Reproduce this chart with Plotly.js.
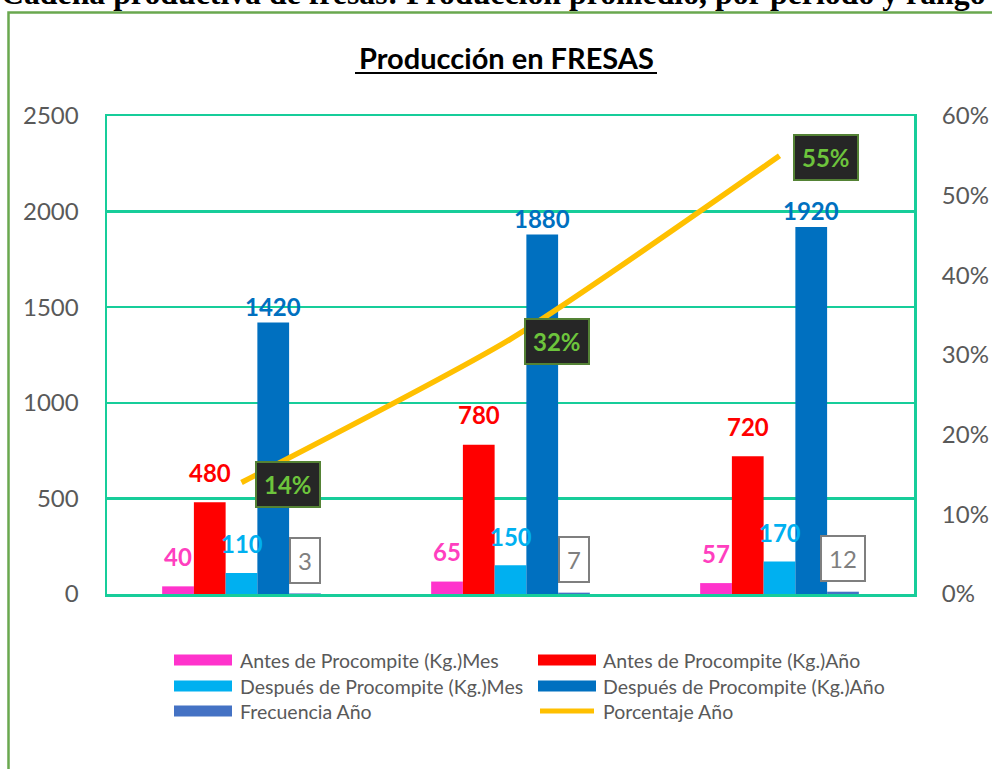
<!DOCTYPE html>
<html>
<head>
<meta charset="utf-8">
<script src="https://cdn.plot.ly/plotly-3.0.1.min.js"></script>
<style>
html,body{margin:0;padding:0;background:#ffffff;}
#chart{width:992px;height:769px;}
</style>
</head>
<body>
<div id="chart"></div>
<script>
// ---- data ----
const categories = ['Periodo 1', 'Periodo 2', 'Periodo 3'];
const antesMes = [40, 65, 57];
const antesAnio = [480, 780, 720];
const despuesMes = [110, 150, 170];
const despuesAnio = [1420, 1880, 1920];
const frecuenciaAnio = [3, 7, 12];
const porcentajeAnio = [0.14, 0.32, 0.55];
const seriesNames = [
  'Antes de Procompite (Kg.)Mes',
  'Antes de Procompite (Kg.)Año',
  'Después de Procompite (Kg.)Mes',
  'Después de Procompite (Kg.)Año',
  'Frecuencia Año',
  'Porcentaje Año'
];
const leftTicks = [0, 500, 1000, 1500, 2000, 2500];
const rightTicks = [0, 0.1, 0.2, 0.3, 0.4, 0.5, 0.6];
const chartTitle = 'Producción en FRESAS';
const pageTitle = 'Cadena productiva de fresas: Producción promedio, por periodo y rango';

// ---- styles ----
const barColors = ['#FF33CC', '#FF0000', '#00B0F0', '#0070C0', '#4472C4'];
const labelColors = ['#FF3FBF', '#FF0000', '#00B0F0', '#0070C0'];
const lineColor = '#FFC000';
const teal = '#17CD9A';
const grey = '#595959';
const FONT = 'Lato, "Open Sans", sans-serif';

const W = 992, H = 769;
const M = {l: 107, r: 78, t: 116, b: 175};
const PW = W - M.l - M.r, PH = H - M.t - M.b;
const px = x => (x - M.l) / PW;
const py = y => (H - M.b - y) / PH;

const barSeries = [antesMes, antesAnio, despuesMes, despuesAnio, frecuenciaAnio];
const bargap = 0.41;
const nb = barSeries.length;
const bw = (1 - bargap) / nb;

const traces = barSeries.map((vals, k) => ({
  type: 'bar',
  name: seriesNames[k],
  x: categories,
  y: vals,
  marker: {color: barColors[k]},
  yaxis: 'y',
  hoverinfo: 'name+y',
  showlegend: false
}));
traces.push({
  type: 'scatter',
  mode: 'lines',
  name: seriesNames[5],
  x: categories,
  y: porcentajeAnio,
  yaxis: 'y2',
  line: {color: lineColor, width: 5.5, shape: 'spline', smoothing: 0.6},
  showlegend: false
});

const annotations = [];
// bar value labels
const labelShift = [30, 30, 29, 16];
for (let k = 0; k < 4; k++) {
  barSeries[k].forEach((v, i) => {
    annotations.push({
      xref: 'x', yref: 'y', x: i + (k - (nb - 1) / 2) * bw, y: v,
      text: '<b>' + v + '</b>', showarrow: false, yanchor: 'middle', yshift: labelShift[k],
      font: {family: FONT, size: 24, color: labelColors[k]}
    });
  });
}
// frequency labels (boxed)
frecuenciaAnio.forEach((v, i) => {
  annotations.push({
    xref: 'x', yref: 'y', x: i + (4 - (nb - 1) / 2) * bw, y: v,
    text: String(v), showarrow: false, yanchor: 'middle', yshift: 33,
    font: {family: FONT, size: 24, color: '#7F7F7F'},
    bgcolor: '#FFFFFF', bordercolor: '#7F7F7F', borderwidth: 2, borderpad: 7
  });
});
// percentage labels
porcentajeAnio.forEach((v, i) => {
  annotations.push({
    xref: 'x', yref: 'y2', x: i, y: v,
    text: '<b>' + Math.round(v * 100) + '%</b>', showarrow: false,
    xanchor: 'center', yanchor: 'middle', xshift: 46, yshift: -2,
    font: {family: FONT, size: 24, color: '#6DC43C'},
    bgcolor: '#262626', bordercolor: '#548235', borderwidth: 2, borderpad: 7
  });
});
// chart title
annotations.push({
  xref: 'paper', yref: 'paper', x: px(506), y: py(58),
  text: '<b>' + chartTitle + '</b>', showarrow: false, xanchor: 'center', yanchor: 'middle',
  font: {family: FONT, size: 29, color: '#000000'}
});
// page title (cut off at top, as in the source image)
annotations.push({
  xref: 'paper', yref: 'paper', x: px(-1), y: py(13), xanchor: 'left', yanchor: 'bottom',
  text: '<b>' + pageTitle + '</b>', showarrow: false,
  font: {family: '"Liberation Serif", "Times New Roman", serif', size: 31.8, color: '#000000'}
});

// custom legend
const shapes = [];
const legendCols = [[174, 238], [538, 601]];
const legendRows = [660, 686, 711];
seriesNames.forEach((name, k) => {
  const col = legendCols[k % 2];
  const row = legendRows[Math.floor(k / 2)];
  if (k < 5) {
    shapes.push({type: 'rect', xref: 'paper', yref: 'paper',
      x0: px(col[0]), x1: px(col[0] + 58), y0: py(row - 5.5), y1: py(row + 5.5),
      fillcolor: barColors[k], line: {width: 0}});
  } else {
    shapes.push({type: 'line', xref: 'paper', yref: 'paper',
      x0: px(col[0] + 2), x1: px(col[0] + 56), y0: py(row), y1: py(row),
      line: {color: lineColor, width: 5}});
  }
  annotations.push({
    xref: 'paper', yref: 'paper', x: px(col[1]), y: py(row), xanchor: 'left', yanchor: 'middle',
    text: name, showarrow: false, font: {family: FONT, size: 19.5, color: grey}
  });
});
// title underline
shapes.push({type: 'line', xref: 'paper', yref: 'paper',
  x0: px(355), x1: px(657), y0: py(73), y1: py(73), line: {color: '#000000', width: 2}});
// outer frame
shapes.push({type: 'rect', xref: 'paper', yref: 'paper',
  x0: px(8.5), x1: px(1100), y0: py(12.5), y1: py(900),
  line: {color: '#6AA84F', width: 2.5}, fillcolor: 'rgba(0,0,0,0)'});

const layout = {
  width: W, height: H,
  margin: M,
  paper_bgcolor: '#FFFFFF',
  plot_bgcolor: '#FFFFFF',
  barmode: 'group',
  bargap: bargap,
  bargroupgap: 0,
  showlegend: false,
  xaxis: {
    type: 'category', range: [-0.5, 2.5], showticklabels: false, ticks: '',
    showgrid: false, showline: true, mirror: true, linecolor: teal, linewidth: 2.5, fixedrange: true
  },
  yaxis: {
    range: [0, 2500], tickvals: leftTicks, showgrid: true, gridcolor: teal, gridwidth: 2.5,
    zeroline: false, showline: true, mirror: true, linecolor: teal, linewidth: 2.5,
    ticks: 'outside', ticklen: 21, tickcolor: 'rgba(0,0,0,0)',
    tickfont: {family: FONT, size: 24, color: grey}, fixedrange: true
  },
  yaxis2: {
    overlaying: 'y', side: 'right', range: [0, 0.6], tickvals: rightTicks, tickformat: '.0%',
    showgrid: false, zeroline: false, showline: false,
    ticks: 'outside', ticklen: 22, tickcolor: 'rgba(0,0,0,0)',
    tickfont: {family: FONT, size: 24, color: grey}, fixedrange: true
  },
  annotations: annotations,
  shapes: shapes
};

Plotly.newPlot('chart', traces, layout, {displayModeBar: false, staticPlot: true});
</script>
</body>
</html>
